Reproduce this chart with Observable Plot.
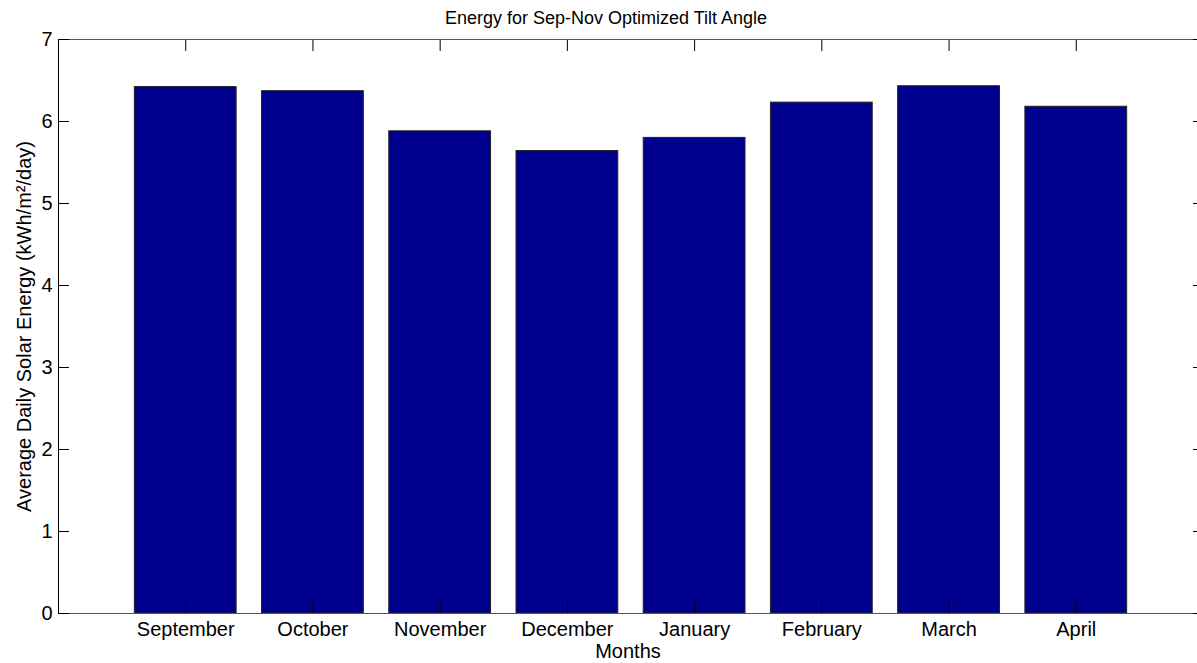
<!DOCTYPE html>
<html>
<head>
<meta charset="utf-8">
<script src="https://cdn.jsdelivr.net/npm/d3@7"></script>
<script src="https://cdn.jsdelivr.net/npm/@observablehq/plot@0.6"></script>
<style>
  html, body { margin: 0; padding: 0; background: white; overflow: hidden; }
  #chart svg { max-width: none; }
</style>
</head>
<body>
<div id="chart"></div>
<script>
// ---- data ----
const months = ["September", "October", "November", "December", "January", "February", "March", "April"];
const energy = [6.42, 6.37, 5.88, 5.64, 5.80, 6.23, 6.43, 6.18];
const yTicks = [0, 1, 2, 3, 4, 5, 6, 7];
const titleText = "Energy for Sep-Nov Optimized Tilt Angle";
const xLabel = "Months";
const yLabel = "Average Daily Solar Energy (kWh/m²/day)";
const xLimits = [0, 9];
const yLimits = [0, 7];

const table = months.map((m, i) => ({month: m, pos: i + 1, value: energy[i]}));
const xTicks = table.map(d => d.pos);
const barHalf = 0.4;
const font = "'Liberation Sans', Arial, Helvetica, sans-serif";

const chart = Plot.plot({
  width: 1197,
  height: 663,
  marginLeft: 58,
  marginRight: -6,
  marginTop: 39,
  marginBottom: 50,
  style: {fontFamily: font, fontSize: "20px", color: "black", background: "white"},
  x: {domain: xLimits},
  y: {domain: yLimits},
  marks: [
    Plot.rectY(table, {
      x1: d => d.pos - barHalf,
      x2: d => d.pos + barHalf,
      y: "value",
      fill: "#00008F",
      stroke: "#222",
      strokeWidth: 1
    }),
    Plot.frame({stroke: "#555", strokeWidth: 1}),
    Plot.ruleX([xLimits[0]], {stroke: "black", strokeWidth: 1}),
    // bottom axis: inward ticks + month labels
    Plot.axisX({anchor: "bottom", ticks: xTicks, tickSize: -11, tickPadding: 19,
      tickFormat: v => months[v - 1], label: null, fontSize: 20}),
    // top axis ticks only
    Plot.axisX({anchor: "top", ticks: xTicks, tickSize: -11, tickFormat: () => "", label: null}),
    // left axis: inward ticks + numbers
    Plot.axisY({anchor: "left", ticks: yTicks, tickSize: -11, tickPadding: 17,
      tickFormat: d3.format("d"), label: null, fontSize: 20}),
    // right axis ticks only
    Plot.axisY({anchor: "right", ticks: yTicks, tickSize: -11, tickFormat: () => "", label: null}),
    // title
    Plot.text([titleText], {frameAnchor: "top", dx: -25, dy: -16, lineAnchor: "bottom",
      text: d => d, fontSize: 18, fill: "black"}),
    // x label
    Plot.text([xLabel], {frameAnchor: "bottom", dx: -3, dy: 44, lineAnchor: "bottom",
      text: d => d, fontSize: 20, fill: "black"}),
    // y label
    Plot.text([yLabel], {frameAnchor: "left", dx: -28, rotate: -90, lineAnchor: "bottom",
      textAnchor: "middle", text: d => d, fontSize: 20, fill: "black"})
  ]
});
document.getElementById("chart").appendChild(chart);
</script>
</body>
</html>
